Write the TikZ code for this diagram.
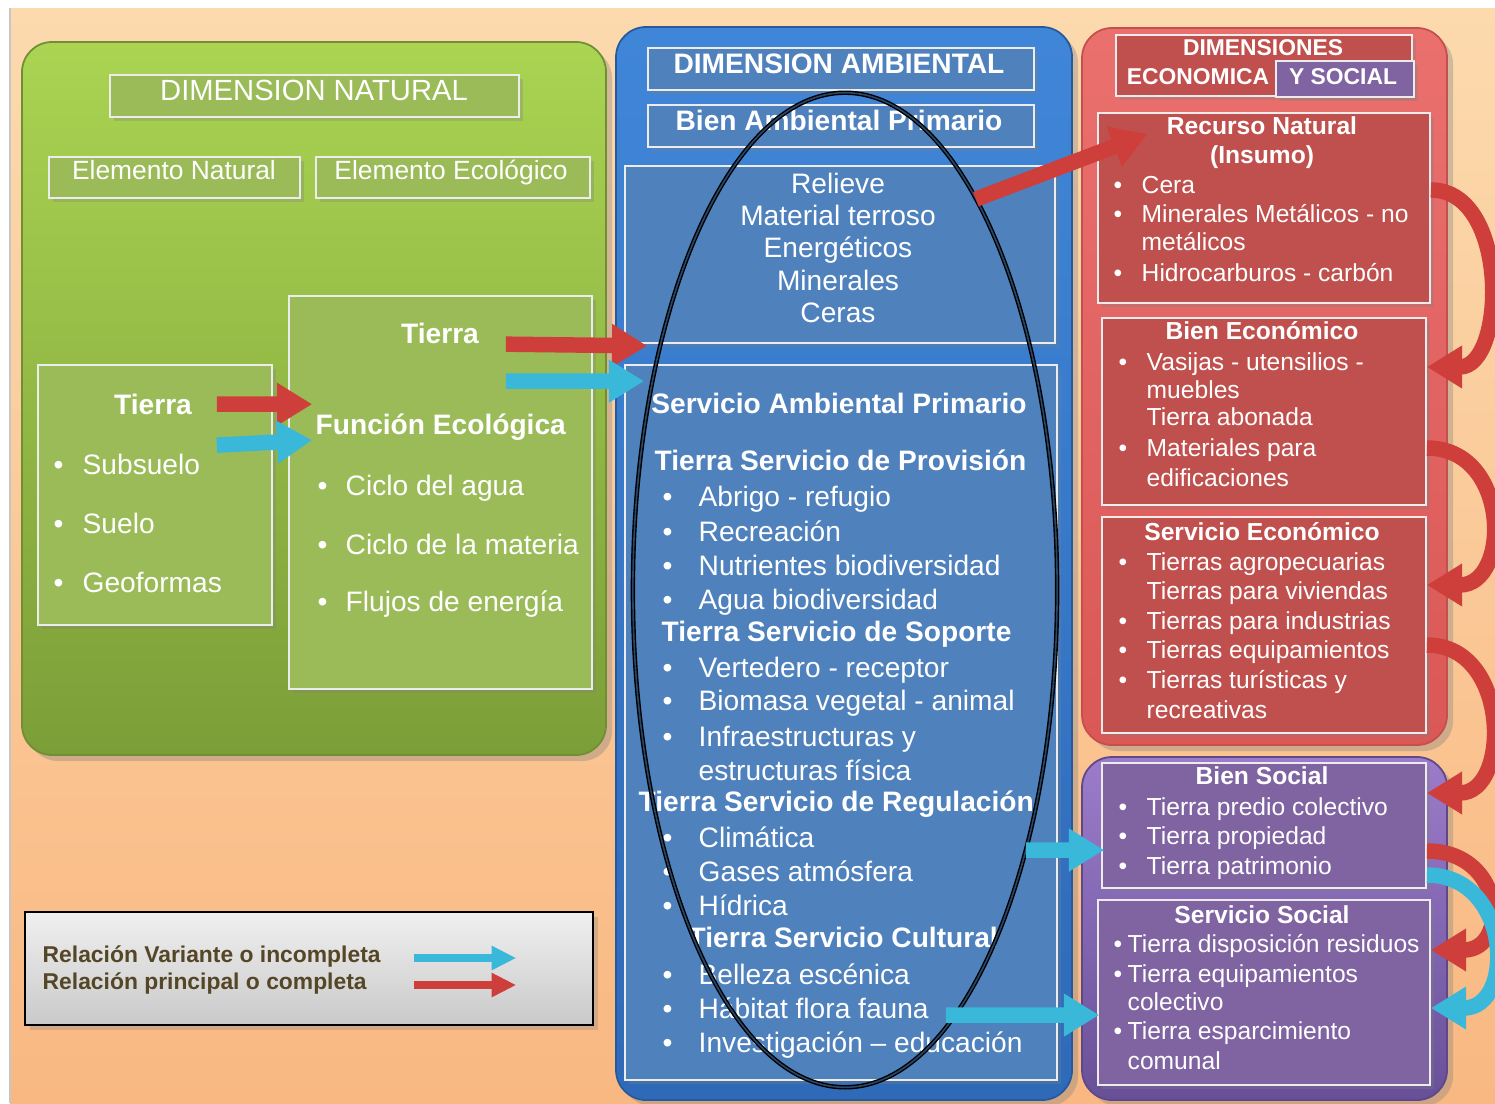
\documentclass[tikz,border=0pt]{standalone}
\usepackage{fontspec}
\setmainfont{Liberation Sans}
\usepackage{xcolor}
\usetikzlibrary{arrows.meta}
\usetikzlibrary{fit}
\usetikzlibrary{shadows}
\usetikzlibrary{shapes.geometric}

\definecolor{peachtop}{RGB}{252,218,174}
\definecolor{peachbot}{RGB}{249,184,130}
\definecolor{grntop}{RGB}{170,212,82}
\definecolor{grnbot}{RGB}{124,158,56}
\definecolor{grnbox}{RGB}{155,187,89}
\definecolor{blutop}{RGB}{64,134,216}
\definecolor{blubot}{RGB}{46,106,184}
\definecolor{blubox}{RGB}{79,129,189}
\definecolor{redtop}{RGB}{234,112,110}
\definecolor{redbot}{RGB}{218,88,86}
\definecolor{redbox}{RGB}{192,80,77}
\definecolor{purtop}{RGB}{156,124,202}
\definecolor{purbot}{RGB}{104,80,152}
\definecolor{purbox}{RGB}{128,100,162}
\definecolor{arrred}{RGB}{206,62,58}
\definecolor{arrblue}{RGB}{58,184,218}
\definecolor{legtext}{RGB}{84,70,38}

\newcommand{\fbig}{\fontsize{8}{9.6}\selectfont}
\newcommand{\fsmall}{\fontsize{7}{8.4}\selectfont}
\newcommand{\bu}[1]{\makebox[#1][l]{\textbullet}}

\begin{document}
\begin{tikzpicture}[x=0.01cm, y=-0.01cm,
    panel/.style={rounded corners=3mm, draw=#1, line width=0.5pt, inner sep=0pt,
      drop shadow={shadow xshift=0.6mm, shadow yshift=-0.6mm, opacity=0.35}},
    box/.style={fill=#1, draw=white!85!gray, line width=0.5pt, inner sep=0pt,
      drop shadow={shadow xshift=0.4mm, shadow yshift=-0.4mm, opacity=0.3}},
    big/.style={text=white, font=\fbig, inner sep=0pt},
    bigb/.style={big, font=\fbig\bfseries},
    small/.style={text=white, font=\fsmall, inner sep=0pt},
    smallb/.style={small, font=\fsmall\bfseries},
    fat/.style={line width=4.4pt, -{Triangle[length=10pt, width=11.5pt]}},
    redarr/.style={fat, draw=arrred},
    bluearr/.style={fat, draw=arrblue},
  ]
  \useasboundingbox (0,0) rectangle (1495,1103);
  \fill[top color=peachtop, bottom color=peachbot] (10,8) rectangle (1495,1103);
  \draw[gray!45, line width=0.6pt] (10,8) -- (10,1103);

  % natural
  \node[panel=grnbot!90!black, top color=grntop, bottom color=grnbot, fit={(22,42) (606,755)}] (natpanel) {};
  \node[box=grnbox, fit={(110,75) (519,117)}] (natbox) {};
  \node[box=grnbox, fit={(49,157) (300,198)}] (elnat) {};
  \node[box=grnbox, fit={(316,157) (590,198)}] (eleco) {};
  \node[box=grnbox, fit={(289,296) (592,689)}] (fecol) {};
  \node[box=grnbox, fit={(38,365) (272,625)}] (tierra) {};

  \node[big, font=\fontsize{8.3}{10}\selectfont, anchor=base] (natttl) at (314,100) {DIMENSION NATURAL};
  \node[big, font=\fontsize{7.5}{9}\selectfont, anchor=base] (elnatttl) at (174,179) {Elemento Natural};
  \node[big, font=\fontsize{7.5}{9}\selectfont, anchor=base] (elecottl) at (451,179) {Elemento Ecológico};
  \node[bigb, anchor=base] (tierrattl) at (153,414) {Tierra};
  \node[big, anchor=base west] (subs) at (53,474) {\bu{2.9mm}Subsuelo};
  \node[big, anchor=base west] (suelo) at (53,533) {\bu{2.9mm}Suelo};
  \node[big, anchor=base west] (geof) at (53,592) {\bu{2.9mm}Geoformas};
  \node[bigb, anchor=base] (tierra2ttl) at (440,343) {Tierra};
  \node[bigb, anchor=base west] (fecolttl) at (315,434) {Función Ecológica};
  \node[big, anchor=base west] (cagua) at (317,495) {\bu{2.8mm}Ciclo del agua};
  \node[big, anchor=base west] (cmat) at (317,554) {\bu{2.8mm}Ciclo de la materia};
  \node[big, anchor=base west] (flujo) at (317,611) {\bu{2.8mm}Flujos de energía};

  % ambiental
  \node[panel=blubot!85!black, top color=blutop, bottom color=blubot, fit={(616,27) (1072,1100)}] (ambpanel) {};
  \node[box=blubox, fit={(648,48) (1034,90)}] (ambbox) {};
  \node[box=blubox, fit={(648,105) (1034,147)}] (bapbox) {};
  \node[box=blubox, fit={(625,166) (1055,343)}] (bienamb) {};
  \node[box=blubox, fit={(625,365) (1057,1080)}] (servamb) {};

  \node[bigb, anchor=base] (ambttl) at (839,73) {DIMENSION AMBIENTAL};
  \node[bigb, anchor=base] (bapttl) at (839,130) {Bien Ambiental Primario};
  \node[big, anchor=base] (relieve) at (838,193) {Relieve};
  \node[big, anchor=base] (mterr) at (838,225) {Material terroso};
  \node[big, anchor=base] (energ) at (838,257) {Energéticos};
  \node[big, anchor=base] (miner) at (838,290) {Minerales};
  \node[big, anchor=base] (ceras) at (838,322) {Ceras};
  \node[bigb, anchor=base] (sapttl) at (839,413) {Servicio Ambiental Primario};
  \node[bigb, anchor=base west] (provttl) at (654,470) {Tierra Servicio de Provisión};
  \node[big, anchor=base west] (abrigo) at (662,506) {\bu{3.6mm}Abrigo - refugio};
  \node[big, anchor=base west] (recrea) at (662,541) {\bu{3.6mm}Recreación};
  \node[big, anchor=base west] (nutri) at (662,575) {\bu{3.6mm}Nutrientes biodiversidad};
  \node[big, anchor=base west] (agua) at (662,609) {\bu{3.6mm}Agua biodiversidad};
  \node[bigb, anchor=base west] (soporttl) at (661,641) {Tierra Servicio de Soporte};
  \node[big, anchor=base west] (vert) at (662,677) {\bu{3.6mm}Vertedero - receptor};
  \node[big, anchor=base west] (biom) at (662,710) {\bu{3.6mm}Biomasa vegetal - animal};
  \node[big, anchor=base west] (infra) at (662,746) {\bu{3.6mm}Infraestructuras y};
  \node[big, anchor=base west] (estr) at (698,780) {estructuras física};
  \node[bigb, anchor=base west] (regttl) at (638,811) {Tierra Servicio de Regulación};
  \node[big, anchor=base west] (clima) at (662,847) {\bu{3.6mm}Climática};
  \node[big, anchor=base west] (gases) at (662,881) {\bu{3.6mm}Gases atmósfera};
  \node[big, anchor=base west] (hidr) at (662,915) {\bu{3.6mm}Hídrica};
  \node[bigb, anchor=base west] (cultttl) at (688,947) {Tierra Servicio Cultural};
  \node[big, anchor=base west] (bell) at (662,984) {\bu{3.6mm}Belleza escénica};
  \node[big, anchor=base west] (habit) at (662,1018) {\bu{3.6mm}Hábitat flora fauna};
  \node[big, anchor=base west] (invest) at (662,1052) {\bu{3.6mm}Investigación -- educación};

  \node[ellipse, draw=black, line width=0.4pt, double=blubox!55!black, double distance=0.45pt,
    minimum width=42.4mm, minimum height=99.4mm, inner sep=0pt] (ring) at (845,590) {};

  % economica
  \node[panel=redbot!90!black, top color=redtop, bottom color=redbot, fit={(1082,28) (1447,745)}] (ecopanel) {};
  \node[box=redbox, fit={(1116,35) (1412,96)}] (dimbox) {};
  \node[box=purbox, fit={(1276,61) (1414,97)}] (socbox) {};
  \node[box=redbox, fit={(1098,113) (1430,303)}] (recnat) {};
  \node[box=redbox, fit={(1102,318) (1426,505)}] (bieneco) {};
  \node[box=redbox, fit={(1102,517) (1426,733)}] (serveco) {};

  \node[small, font=\fontsize{6.5}{8}\selectfont\bfseries, anchor=base] (dimttl) at (1263,55) {DIMENSIONES};
  \node[small, font=\fontsize{6.5}{8}\selectfont\bfseries, anchor=base] (ecottl) at (1198,84) {ECONOMICA};
  \node[small, font=\fontsize{6.5}{8}\selectfont\bfseries, anchor=base] (socttl) at (1343,84) {Y SOCIAL};
  \node[smallb, anchor=base] (recttl) at (1262,134) {Recurso Natural};
  \node[smallb, anchor=base] (insumo) at (1262,163) {(Insumo)};
  \node[small, anchor=base west] (cera) at (1113,193) {\bu{2.8mm}Cera};
  \node[small, anchor=base west] (metal) at (1113,222) {\bu{2.8mm}Minerales Metálicos - no};
  \node[small, anchor=base west] (nometal) at (1141,250) {metálicos};
  \node[small, anchor=base west] (hidro) at (1113,281) {\bu{2.8mm}Hidrocarburos - carbón};
  \node[smallb, anchor=base] (beconttl) at (1262,339) {Bien Económico};
  \node[small, anchor=base west] (vasij) at (1118,370) {\bu{2.8mm}Vasijas - utensilios -};
  \node[small, anchor=base west] (muebl) at (1146,398) {muebles};
  \node[small, anchor=base west] (abon) at (1146,425) {Tierra abonada};
  \node[small, anchor=base west] (mater) at (1118,456) {\bu{2.8mm}Materiales para};
  \node[small, anchor=base west] (edif) at (1146,486) {edificaciones};
  \node[smallb, anchor=base] (seconttl) at (1262,540) {Servicio Económico};
  \node[small, anchor=base west] (agro) at (1118,570) {\bu{2.8mm}Tierras agropecuarias};
  \node[small, anchor=base west] (vivi) at (1146,599) {Tierras para viviendas};
  \node[small, anchor=base west] (indu) at (1118,629) {\bu{2.8mm}Tierras para industrias};
  \node[small, anchor=base west] (equi) at (1118,658) {\bu{2.8mm}Tierras equipamientos};
  \node[small, anchor=base west] (turi) at (1118,688) {\bu{2.8mm}Tierras turísticas y};
  \node[small, anchor=base west] (recre) at (1146,718) {recreativas};

  % social
  \node[panel=purbot!90!black, top color=purtop, bottom color=purbot, fit={(1082,757) (1447,1100)}] (socpanel) {};
  \node[box=purbox, fit={(1102,763) (1426,888)}] (biensoc) {};
  \node[box=purbox, fit={(1098,900) (1430,1085)}] (servsoc) {};

  \node[smallb, anchor=base] (bsocttl) at (1262,784) {Bien Social};
  \node[small, anchor=base west] (predio) at (1118,815) {\bu{2.8mm}Tierra predio colectivo};
  \node[small, anchor=base west] (propi) at (1118,844) {\bu{2.8mm}Tierra propiedad};
  \node[small, anchor=base west] (patri) at (1118,874) {\bu{2.8mm}Tierra patrimonio};
  \node[smallb, anchor=base] (ssocttl) at (1262,923) {Servicio Social};
  \node[small, anchor=base west] (resid) at (1113,952) {\bu{1.4mm}Tierra disposición residuos};
  \node[small, anchor=base west] (equip) at (1113,982) {\bu{1.4mm}Tierra equipamientos};
  \node[small, anchor=base west] (colec) at (1127,1010) {colectivo};
  \node[small, anchor=base west] (espar) at (1113,1039) {\bu{1.4mm}Tierra esparcimiento};
  \node[small, anchor=base west] (comun) at (1127,1069) {comunal};

  % leyenda
  \node[fit={(25,912) (593,1025)}, inner sep=0pt, draw=black, line width=0.7pt, top color=gray!12, bottom color=gray!42,
    drop shadow={shadow xshift=0.5mm, shadow yshift=-0.5mm, opacity=0.3}] (legend) {};
  \node[anchor=base west, inner sep=0pt, text=legtext, font=\fontsize{6.5}{8}\selectfont\bfseries] (legvar) at (42,962) {Relación Variante o incompleta};
  \node[anchor=base west, inner sep=0pt, text=legtext, font=\fontsize{6.5}{8}\selectfont\bfseries] (legpri) at (42,989) {Relación principal o completa};
  \draw[bluearr, line width=2.4pt, -{Triangle[length=7pt, width=6.5pt]}] ([xshift=-18mm, yshift=1.05mm]legend.east) -- ++(10.2mm,0);
  \draw[redarr, line width=2.4pt, -{Triangle[length=7pt, width=6.5pt]}] ([xshift=-18mm, yshift=-1.65mm]legend.east) -- ++(10.2mm,0);

  % relaciones
  \draw[redarr] ([xshift=-5.6mm, yshift=-4mm]tierra.north east) -- ([xshift=2.4mm, yshift=-10.9mm]fecol.north west);
  \draw[bluearr] ([xshift=-5.6mm, yshift=-8.1mm]tierra.north east) -- ([xshift=2.4mm, yshift=-14.5mm]fecol.north west);
  \draw[redarr] ([xshift=-8.7mm, yshift=-4.9mm]fecol.north east) -- ([xshift=2.3mm, yshift=-0.2mm]bienamb.south west);
  \draw[bluearr] ([xshift=-8.7mm, yshift=-8.6mm]fecol.north east) -- ([xshift=2mm, yshift=-1.7mm]servamb.north west);
  \draw[redarr] ([xshift=-8mm, yshift=-3.4mm]bienamb.north east) -- ([xshift=5mm, yshift=-2.2mm]recnat.north west);
  \draw[bluearr] ([xshift=-3.2mm, yshift=-12.75mm]servamb.east) -- ([xshift=0.3mm, yshift=-2.45mm]biensoc.west);
  \draw[bluearr] ([xshift=-11.2mm, yshift=-29.25mm]servamb.east) -- ([xshift=0.2mm, yshift=-2.25mm]servsoc.west);

  \draw[redarr] ([yshift=1.8mm]recnat.east) to[out=0, in=0, looseness=1.14] ([yshift=4.45mm]bieneco.east);
  \draw[redarr] ([yshift=-3.65mm]bieneco.east) to[out=0, in=0, looseness=1.57] ([yshift=4mm]serveco.east);
  \draw[redarr] ([yshift=-2mm]serveco.east) to[out=0, in=0, looseness=1.45] ([yshift=3.25mm]biensoc.east);
  \draw[redarr] ([yshift=-2.55mm]biensoc.east) to[out=0, in=0, looseness=2.03] ([yshift=4.25mm]servsoc.east);
  \draw[bluearr] ([yshift=-4.95mm]biensoc.east) to[out=0, in=0, looseness=1.63] ([yshift=-1.55mm]servsoc.east);
\end{tikzpicture}
\end{document}
